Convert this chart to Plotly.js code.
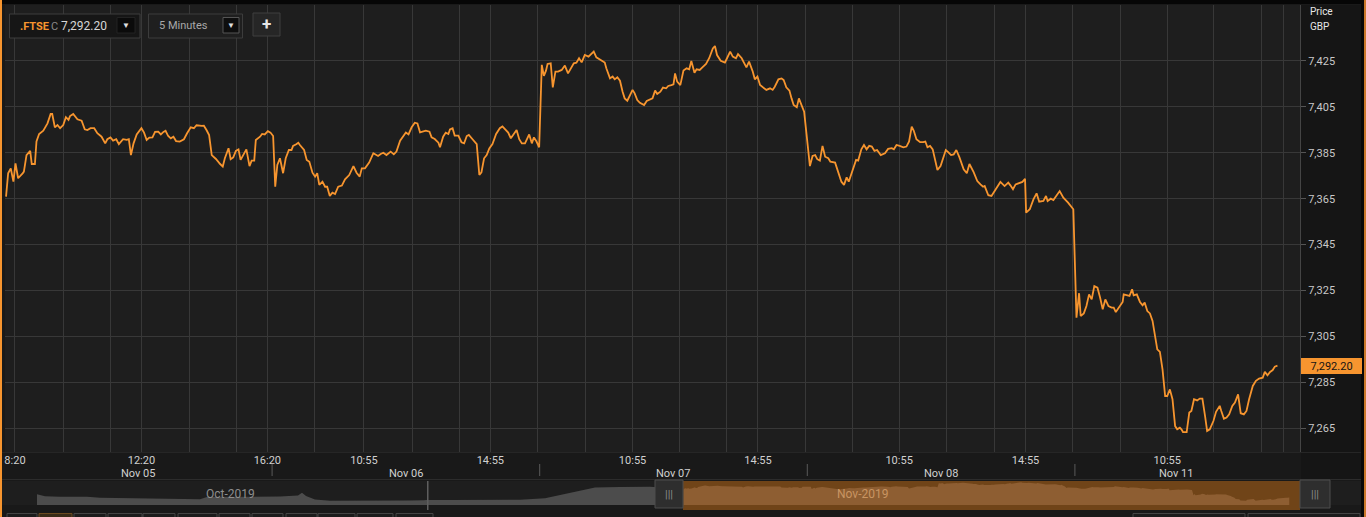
<!DOCTYPE html>
<html><head><meta charset="utf-8">
<script src="https://cdn.plot.ly/plotly-3.0.1.min.js"></script>
<style>html,body{margin:0;padding:0;background:#191919;overflow:hidden}#chart{width:1366px;height:517px}</style>
</head><body><div id="chart"></div>
<script>
// ---- DATA: FTSE 100 (.FTSE), 5-minute bars ----
// x = trading minutes since Nov 05 08:00 (each session 08:00-16:30 = 510 min), y = price (GBP)
const nov05 = [[3,7365.9],[7,7376.1],[12,7378.2],[17,7372.4],[21,7380.4],[26,7373.9],[35,7376.1],[37,7376.8],[42,7384.0],[49,7385.8],[52,7380.1],[58,7380.1],[61,7389.9],[66,7393.2],[74,7394.6],[82,7397.8],[88,7401.9],[91,7401.9],[96,7396.1],[101,7397.1],[106,7395.7],[112,7397.1],[117,7400.5],[122,7399.3],[125,7401.0],[131,7401.9],[139,7399.6],[147,7399.0],[153,7395.2],[158,7394.9],[164,7395.7],[171,7395.7],[177,7393.5],[185,7392.0],[192,7389.1],[196,7390.9],[202,7391.7],[207,7390.3],[213,7390.9],[218,7388.8],[226,7390.9],[233,7390.6],[237,7390.9],[241,7384.0],[246,7389.1],[252,7393.0],[261,7395.7],[266,7393.8],[271,7390.6],[276,7391.6],[282,7391.7],[287,7394.1],[293,7394.2],[298,7393.0],[303,7394.1],[307,7394.6],[312,7392.3],[317,7391.3],[322,7392.0],[327,7390.1],[334,7389.9],[342,7390.9],[348,7393.5],[355,7396.1],[361,7395.7],[366,7397.0],[376,7396.7],[380,7396.8],[385,7394.9],[390,7392.7],[395,7384.0],[403,7382.3],[411,7380.1],[416,7379.0],[420,7382.6],[427,7387.0],[431,7382.2],[436,7383.0],[441,7385.8],[446,7386.5],[450,7381.9],[455,7384.0],[461,7386.5],[467,7379.2],[471,7381.6],[476,7381.6],[479,7390.6],[487,7392.0],[491,7393.2],[496,7393.0],[502,7394.4],[507,7393.8]];
const nov06 = [[512,7392.3],[516,7370.2],[520,7379.7],[525,7382.6],[528,7379.0],[531,7376.1],[536,7382.6],[542,7386.2],[547,7386.2],[550,7388.0],[556,7388.7],[560,7389.4],[563,7388.4],[571,7386.2],[576,7381.9],[581,7381.1],[587,7376.3],[592,7374.6],[596,7376.1],[600,7371.0],[606,7372.4],[611,7370.2],[615,7370.2],[620,7366.2],[625,7367.6],[630,7367.0],[636,7370.2],[643,7370.7],[649,7373.4],[657,7375.3],[665,7379.2],[671,7376.3],[677,7374.6],[681,7378.2],[687,7378.2],[695,7380.7],[703,7384.8],[708,7384.0],[712,7383.6],[717,7384.5],[722,7385.0],[728,7384.0],[736,7385.5],[742,7384.3],[747,7385.5],[754,7390.3],[760,7392.0],[765,7393.8],[770,7393.0],[776,7396.1],[782,7398.1],[787,7397.8],[792,7393.9],[798,7394.2],[803,7394.6],[810,7394.2],[814,7391.7],[820,7391.0],[827,7389.4],[830,7387.4],[836,7392.0],[841,7393.8],[846,7393.2],[849,7395.2],[854,7395.7],[858,7392.5],[865,7392.5],[871,7389.6],[876,7389.1],[881,7392.3],[885,7392.8],[892,7390.9],[900,7388.8],[905,7375.3],[909,7376.5],[914,7382.6],[919,7384.0],[924,7386.9],[930,7388.8],[937,7393.2],[944,7395.7],[949,7396.5],[956,7394.7],[960,7393.8],[965,7391.3],[970,7393.2],[976,7394.9],[981,7390.9],[986,7389.1],[992,7389.1],[996,7391.3],[1000,7393.0],[1005,7389.1],[1009,7391.7],[1014,7389.9],[1019,7387.4]];
const nov07 = [[1024,7423.3],[1028,7418.5],[1032,7420.8],[1035,7423.7],[1041,7424.0],[1045,7413.5],[1050,7420.4],[1055,7420.4],[1062,7421.1],[1068,7423.0],[1074,7419.6],[1081,7422.2],[1085,7424.0],[1090,7424.3],[1095,7426.2],[1100,7424.4],[1106,7427.6],[1113,7426.9],[1119,7428.0],[1123,7429.1],[1128,7426.6],[1135,7425.7],[1144,7424.3],[1147,7421.8],[1154,7417.4],[1159,7418.2],[1163,7417.0],[1168,7417.9],[1173,7416.4],[1178,7411.6],[1182,7408.7],[1187,7407.7],[1192,7410.2],[1197,7412.4],[1201,7410.9],[1206,7408.0],[1211,7406.8],[1219,7405.8],[1224,7407.6],[1230,7408.3],[1235,7408.7],[1240,7412.1],[1244,7410.6],[1250,7411.6],[1255,7413.4],[1261,7413.1],[1265,7414.1],[1271,7414.5],[1275,7414.8],[1278,7419.6],[1282,7416.0],[1288,7414.5],[1294,7420.8],[1300,7421.8],[1305,7421.4],[1309,7425.0],[1315,7419.9],[1319,7421.4],[1325,7421.1],[1330,7422.2],[1337,7423.7],[1343,7426.2],[1350,7430.5],[1354,7431.5],[1358,7427.6],[1365,7425.1],[1373,7424.3],[1377,7426.2],[1383,7429.1],[1388,7426.9],[1394,7426.2],[1398,7428.0],[1405,7426.2],[1409,7424.4],[1414,7422.2],[1419,7424.7],[1426,7420.4],[1430,7417.0],[1435,7418.2],[1440,7414.5],[1447,7413.1],[1452,7412.4],[1459,7413.1],[1464,7412.4],[1468,7413.8],[1475,7417.0],[1481,7417.4],[1485,7416.7],[1490,7413.5],[1496,7412.1],[1500,7408.7],[1504,7405.8],[1510,7404.8],[1514,7408.7],[1519,7405.8],[1524,7402.9],[1527,7396.4]];
const nov08 = [[1532,7386.2],[1535,7379.2],[1540,7383.6],[1545,7384.0],[1549,7382.2],[1554,7381.6],[1559,7388.0],[1564,7383.3],[1570,7382.6],[1574,7381.1],[1583,7380.7],[1589,7376.1],[1595,7372.4],[1600,7371.0],[1605,7374.3],[1609,7372.4],[1614,7376.1],[1623,7381.9],[1627,7381.6],[1633,7386.5],[1638,7388.4],[1643,7386.5],[1648,7388.0],[1653,7387.7],[1658,7385.8],[1663,7386.2],[1670,7384.0],[1678,7384.8],[1684,7386.7],[1691,7387.0],[1695,7386.5],[1700,7388.4],[1706,7388.0],[1713,7387.4],[1719,7387.7],[1724,7389.9],[1729,7396.4],[1733,7394.6],[1738,7390.9],[1745,7389.6],[1751,7389.6],[1755,7389.9],[1759,7387.4],[1764,7388.0],[1769,7386.5],[1773,7382.6],[1778,7377.5],[1784,7379.2],[1789,7383.3],[1794,7386.2],[1799,7385.2],[1804,7384.0],[1809,7384.3],[1814,7386.2],[1820,7383.0],[1825,7379.2],[1828,7377.8],[1834,7376.1],[1839,7380.1],[1847,7376.6],[1854,7372.7],[1860,7371.2],[1865,7370.2],[1868,7370.5],[1875,7366.5],[1881,7366.2],[1891,7369.8],[1898,7372.3],[1906,7370.5],[1913,7372.0],[1917,7370.8],[1922,7369.1],[1927,7371.2],[1934,7371.7],[1940,7372.3],[1945,7373.7],[1947,7358.9],[1954,7360.4],[1961,7364.7],[1967,7367.3],[1972,7363.7],[1980,7364.0],[1985,7366.2],[1988,7364.0],[1994,7365.0],[1999,7364.4],[2005,7366.5],[2011,7368.3],[2018,7365.4],[2027,7363.3],[2037,7360.4]];
const nov11 = [[2043,7313.1],[2048,7323.8],[2051,7313.9],[2057,7315.0],[2062,7318.2],[2067,7323.3],[2072,7321.1],[2077,7326.9],[2083,7326.2],[2088,7321.9],[2093,7316.8],[2098,7321.1],[2104,7318.2],[2110,7317.5],[2114,7317.5],[2118,7315.6],[2124,7317.9],[2131,7320.0],[2133,7323.3],[2140,7322.9],[2144,7322.6],[2149,7325.5],[2152,7322.9],[2158,7323.3],[2164,7320.0],[2169,7318.5],[2173,7319.7],[2178,7316.0],[2183,7315.0],[2188,7311.7],[2192,7306.6],[2197,7299.3],[2202,7298.2],[2207,7290.6],[2212,7279.0],[2216,7279.0],[2221,7281.9],[2226,7277.6],[2231,7265.9],[2235,7264.5],[2240,7265.2],[2243,7264.5],[2246,7263.3],[2253,7263.3],[2258,7271.8],[2262,7272.5],[2267,7277.6],[2273,7277.1],[2278,7277.9],[2283,7277.9],[2288,7270.3],[2292,7263.8],[2297,7264.5],[2304,7268.1],[2309,7272.1],[2316,7274.7],[2319,7272.5],[2324,7269.1],[2329,7269.6],[2334,7271.0],[2340,7274.7],[2345,7276.1],[2351,7279.7],[2356,7271.5],[2362,7271.0],[2367,7272.5],[2372,7277.6],[2379,7283.4],[2385,7285.6],[2391,7286.6],[2398,7287.0],[2402,7289.5],[2407,7288.0],[2412,7289.5],[2417,7290.3],[2421,7291.8],[2426,7292.2]];

// navigator history (Oct 29 - Nov 04), same minute units (negative = before Nov 05)
const navMinute = [-2583,-2551,-2491,-2383,-2331,-2211,-2091,-1931,-1903,-1771,-1611,-1539,-1523,-1507,-1471,-1411,-1251,-1091,-1035,-1027,-931,-811,-651,-551,-491,-411,-351,-251,-131,1];
const navPrice  = [7322,7304,7300,7300,7290,7284,7280,7276,7298,7300,7302,7312,7336,7307,7274,7264,7262,7265,7268,7270,7270,7268,7272,7286,7315,7350,7385,7390,7392,7370];
const monthBoundaryMinute = -1020;

// axis ticks / labels
const gridMinute = [20,112,202,261,352,442,501,590,685,777,867,926,1016,1107,1197,1286,1376,1436,1527,1616,1705,1796,1886,1946,2035,2127,2216,2305,2396,2437];
const labelMinute = [20,261,501,685,926,1197,1436,1705,1946,2216];
const labelText = ['8:20','12:20','16:20','10:55','14:55','10:55','14:55','10:55','14:55','10:55'];
const dayLabel = ['Nov 05','Nov 06','Nov 07','Nov 08','Nov 11'];
const dayMidMinute = [255,765,1275,1785,2233];
const dayBoundaryMinute = [510,1020,1530,2040];
const priceTicks = [7265,7285,7305,7325,7345,7365,7385,7405,7425];
const xRange = [1,2469];
const yRange = [7254.6,7449.4];
const symbol = '.FTSE', interval = '5 Minutes', currency = 'GBP';

// ---- BUILD ----
const W=1366,H=517;
const px=x=>x/W, py=y=>(H-y)/H;
const ORANGE='#f7952f';
const FONT='Roboto, "Open Sans", Arial, sans-serif';
const pts=[].concat(nov05,nov06,nov07,nov08,nov11);
const xs=pts.map(p=>p[0]), ys=pts.map(p=>p[1]);
const last=ys[ys.length-1];
const lastTxt=last.toLocaleString('en-US',{minimumFractionDigits:2,maximumFractionDigits:2});

const selL=683, selR=1300, sPx=(selR-selL)/(xRange[1]-xRange[0]);
const nav0=xRange[0]-selL/sPx, nav1=nav0+W/sPx;

const traces=[
 {x:navMinute,y:navPrice,type:'scatter',mode:'lines',line:{width:0,color:'#4c4c4c'},fill:'tozeroy',fillcolor:'#4c4c4c',xaxis:'x2',yaxis:'y2',hoverinfo:'skip'},
 {x:xs,y:ys,type:'scatter',mode:'lines',line:{width:0,color:'rgb(142,94,50)'},fill:'tozeroy',fillcolor:'rgb(142,94,50)',xaxis:'x2',yaxis:'y2',hoverinfo:'skip'},
 {x:xs,y:ys,type:'scatter',mode:'lines',line:{color:ORANGE,width:1.8},xaxis:'x',yaxis:'y',hoverinfo:'skip'}
];

const shapes=[];
const ann=[];
function A(o){ann.push(Object.assign({showarrow:false,xanchor:'center',yanchor:'middle'},o));}
// right axis panel & bottom rows
shapes.push({type:'rect',xref:'paper',yref:'paper',x0:px(1301),x1:px(1362),y0:py(480),y1:py(5),fillcolor:'#151515',line:{width:0},layer:'below'});
shapes.push({type:'line',xref:'paper',yref:'paper',x0:0,x1:1,y0:py(479.5),y1:py(479.5),line:{color:'#2c2c2c',width:1}});
shapes.push({type:'line',xref:'paper',yref:'paper',x0:0,x1:1,y0:py(452.5),y1:py(452.5),line:{color:'#262626',width:1}});
// day separators in label row
dayBoundaryMinute.forEach(m=>shapes.push({type:'line',xref:'x',yref:'paper',x0:m,x1:m,y0:py(476),y1:py(464),line:{color:'#5a5a5a',width:1}}));
// navigator selection
shapes.push({type:'rect',xref:'x2',yref:'paper',x0:xRange[0],x1:xRange[1],y0:py(510),y1:py(481),fillcolor:'rgb(112,68,24)',line:{width:0},layer:'below'});
shapes.push({type:'line',xref:'x2',yref:'paper',x0:monthBoundaryMinute,x1:monthBoundaryMinute,y0:py(510),y1:py(481),line:{color:'#5e5e5e',width:1.5}});
// handles
shapes.push({type:'rect',xref:'x2',yref:'paper',xsizemode:'pixel',xanchor:xRange[0],x0:-28,x1:0,y0:py(508),y1:py(480),fillcolor:'#2e2e2e',line:{color:'#4d4d4d',width:1}});
shapes.push({type:'rect',xref:'x2',yref:'paper',xsizemode:'pixel',xanchor:xRange[1],x0:0,x1:30,y0:py(508),y1:py(480),fillcolor:'#2e2e2e',line:{color:'#4d4d4d',width:1}});
A({xref:'x2',yref:'paper',x:xRange[0],xshift:-14,y:py(494),text:'|||',font:{family:FONT,size:11,color:'#8a8a8a'}});
A({xref:'x2',yref:'paper',x:xRange[1],xshift:15,y:py(494),text:'|||',font:{family:FONT,size:11,color:'#8a8a8a'}});
A({xref:'paper',yref:'paper',x:px(230),y:py(494),text:'Oct-2019',font:{family:FONT,size:12,color:'#8e8e8e'}});
A({xref:'paper',yref:'paper',x:px(863),y:py(494),text:'Nov-2019',font:{family:FONT,size:12,color:'#c99562'}});
// bottom button row (cut off)
[[7,37],[39,72],[74,106],[108,142],[143,175],[178,217],[219,250],[252,283],[286,317],[318,355],[357,393],[396,433],[1133,1245],[1248,1360]].forEach((b,i)=>{
 shapes.push({type:'rect',xref:'paper',yref:'paper',x0:px(b[0]),x1:px(b[1]),y0:py(522),y1:py(513.5),fillcolor:i===1?'#3a2c18':'#1c1c1c',line:{color:i===1?'#6b4a20':'#444',width:1}});
});
// borders
shapes.push({type:'rect',xref:'paper',yref:'paper',x0:0,x1:1,y0:py(4),y1:1,fillcolor:'#060606',line:{width:0}});
shapes.push({type:'rect',xref:'paper',yref:'paper',x0:0,x1:px(2),y0:0,y1:1,fillcolor:ORANGE,line:{width:0}});
shapes.push({type:'rect',xref:'paper',yref:'paper',x0:px(1361),x1:px(1364),y0:0,y1:1,fillcolor:'#080808',line:{width:0}});
shapes.push({type:'rect',xref:'paper',yref:'paper',x0:px(1364),x1:1,y0:0,y1:1,fillcolor:'#c9782a',line:{width:0}});
// control boxes
shapes.push({type:'rect',xref:'paper',yref:'paper',x0:px(9.5),x1:px(140),y0:py(38),y1:py(14),fillcolor:'#161616',line:{color:'#3c3c3c',width:1}});
shapes.push({type:'rect',xref:'paper',yref:'paper',x0:px(117),x1:px(135),y0:py(33),y1:py(17.5),fillcolor:'#0b0b0b',line:{color:'#222',width:1}});
shapes.push({type:'rect',xref:'paper',yref:'paper',x0:px(148.5),x1:px(242.5),y0:py(38),y1:py(14),fillcolor:'#1f1f1f',line:{color:'#3c3c3c',width:1}});
shapes.push({type:'rect',xref:'paper',yref:'paper',x0:px(223),x1:px(239),y0:py(33),y1:py(17.5),fillcolor:'#0e0e0e',line:{color:'#555',width:1}});
shapes.push({type:'rect',xref:'paper',yref:'paper',x0:px(253),x1:px(280),y0:py(36),y1:py(13),fillcolor:'#262626',line:{color:'#3e3e3e',width:1}});
A({xref:'paper',yref:'paper',x:px(18),y:py(26),xanchor:'left',text:'<b>'+symbol+'</b>',font:{family:FONT,size:11,color:ORANGE}});
A({xref:'paper',yref:'paper',x:px(49),y:py(26),xanchor:'left',text:'C',font:{family:FONT,size:11,color:'#8a8a8a'}});
A({xref:'paper',yref:'paper',x:px(59),y:py(26),xanchor:'left',text:lastTxt,font:{family:FONT,size:12,color:'#d6d6d6'}});
A({xref:'paper',yref:'paper',x:px(126),y:py(25.5),text:'▼',font:{family:FONT,size:8,color:'#e0e0e0'}});
A({xref:'paper',yref:'paper',x:px(157),y:py(25.5),xanchor:'left',text:interval,font:{family:FONT,size:11,color:'#a8a8a8'}});
A({xref:'paper',yref:'paper',x:px(231),y:py(25.5),text:'▼',font:{family:FONT,size:8,color:'#e0e0e0'}});
A({xref:'paper',yref:'paper',x:px(266.5),y:py(24),text:'<b>+</b>',font:{family:FONT,size:17,color:'#e6e6e6'}});
// axis header
A({xref:'paper',yref:'paper',x:px(1308),y:py(12),xanchor:'left',text:'Price',font:{family:FONT,size:10,color:'#e6e6e6'}});
A({xref:'paper',yref:'paper',x:px(1308),y:py(26.5),xanchor:'left',text:currency,font:{family:FONT,size:10,color:'#e6e6e6'}});
// last price tag
A({xref:'paper',yref:'y',x:px(1301),y:last,xanchor:'left',text:lastTxt,bgcolor:ORANGE,borderpad:0,borderwidth:0,width:61,height:16,align:'center',font:{family:FONT,size:11,color:'#141414'}});
// day labels
dayLabel.forEach((t,i)=>A({xref:'x',yref:'paper',x:dayMidMinute[i],y:py(473),text:t,font:{family:FONT,size:11,color:'#d0d0d0'}}));

const ticktext=gridMinute.map(m=>{const i=labelMinute.indexOf(m);return i>=0?labelText[i]:'';});

const layout={
 width:W,height:H,margin:{l:0,r:0,t:0,b:0},
 paper_bgcolor:'#191919',plot_bgcolor:'#1e1e1e',showlegend:false,
 font:{family:FONT,color:'#cfcfcf',size:11},
 xaxis:{domain:[px(5),px(1300)],range:xRange,anchor:'y',tickmode:'array',tickvals:gridMinute,ticktext:ticktext,showgrid:true,gridcolor:'#383838',gridwidth:1,zeroline:false,showline:false,ticks:'',tickfont:{family:FONT,size:11,color:'#d0d0d0'},fixedrange:true},
 yaxis:{domain:[py(452),py(5)],range:yRange,side:'right',anchor:'x',tickmode:'array',tickvals:priceTicks,tickformat:',d',showgrid:true,gridcolor:'#383838',gridwidth:1,zeroline:false,showline:true,linecolor:'#444',linewidth:1,ticks:'outside',ticklen:5,tickcolor:'#555',tickfont:{family:FONT,size:11,color:'#c8c8c8'},fixedrange:true},
 xaxis2:{domain:[0,1],range:[nav0,nav1],anchor:'y2',visible:false,fixedrange:true},
 yaxis2:{domain:[py(505),py(481)],range:[7224,7444],anchor:'x2',visible:false,fixedrange:true},
 shapes:shapes,annotations:ann
};
Plotly.newPlot('chart',traces,layout,{staticPlot:true,displayModeBar:false});
</script></body></html>
